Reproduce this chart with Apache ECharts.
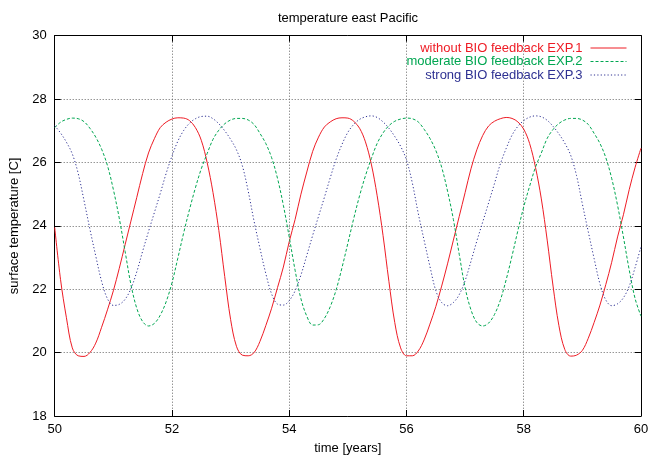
<!DOCTYPE html>
<html>
<head>
<meta charset="utf-8">
<script src="https://cdn.jsdelivr.net/npm/echarts@6/dist/echarts.min.js"></script>
<style>
html,body{margin:0;padding:0;background:#fff;}
#chart{width:658px;height:460px;}
</style>
</head>
<body>
<div id="chart"></div>
<script>
const years = [50.0,50.1,50.2,50.3,50.4,50.5,50.6,50.7,50.8,50.9,
51.0,51.1,51.2,51.3,51.4,51.5,51.6,51.7,51.8,51.9,
52.0,52.1,52.2,52.3,52.4,52.5,52.6,52.7,52.8,52.9,
53.0,53.1,53.2,53.3,53.4,53.5,53.6,53.7,53.8,53.9,
54.0,54.1,54.2,54.3,54.4,54.5,54.6,54.7,54.8,54.9,
55.0,55.1,55.2,55.3,55.4,55.5,55.6,55.7,55.8,55.9,
56.0,56.1,56.2,56.3,56.4,56.5,56.6,56.7,56.8,56.9,
57.0,57.1,57.2,57.3,57.4,57.5,57.6,57.7,57.8,57.9,
58.0,58.1,58.2,58.3,58.4,58.5,58.6,58.7,58.8,58.9,
59.0,59.1,59.2,59.3,59.4,59.5,59.6,59.7,59.8,59.9,60.0];

const exp1 = [23.95,22.3,21.1,20.15,19.9,19.88,20.0,20.3,20.8,21.35,
21.95,22.65,23.4,24.15,24.9,25.65,26.3,26.75,27.1,27.27,
27.37,27.41,27.4,27.32,27.1,26.7,26.0,25.05,23.85,22.4,
21.05,20.2,19.92,19.9,20.0,20.35,20.85,21.4,22.05,22.7,
23.5,24.2,25.0,25.7,26.35,26.8,27.12,27.28,27.38,27.41,
27.4,27.3,27.08,26.65,25.95,24.95,23.7,22.25,20.95,20.15,
19.9,19.9,20.05,20.4,20.9,21.45,22.1,22.8,23.55,24.3,
25.05,25.8,26.4,26.85,27.15,27.3,27.38,27.42,27.39,27.28,
27.05,26.6,25.85,24.85,23.55,22.1,20.85,20.1,19.89,19.92,
20.07,20.45,20.95,21.5,22.15,22.85,23.65,24.35,25.15,25.85,26.45];

const exp2 = [27.1,27.27,27.36,27.4,27.38,27.29,27.08,26.8,26.42,25.9,
25.15,24.25,23.2,22.15,21.4,20.98,20.84,20.92,21.18,21.6,
22.2,22.98,23.78,24.52,25.2,25.8,26.28,26.73,27.02,27.22,
27.34,27.39,27.39,27.34,27.2,26.92,26.6,26.15,25.5,24.65,
23.65,22.6,21.7,21.15,20.87,20.88,21.08,21.45,21.98,22.68,
23.45,24.23,24.95,25.58,26.12,26.6,26.93,27.16,27.3,27.37,
27.4,27.38,27.28,27.05,26.76,26.38,25.85,25.1,24.2,23.1,
22.05,21.35,20.95,20.84,20.93,21.2,21.65,22.3,23.05,23.85,
24.6,25.25,25.85,26.3,26.76,27.04,27.23,27.34,27.39,27.39,
27.34,27.2,26.92,26.6,26.15,25.5,24.65,23.65,22.6,21.7,21.15];

const exp3 = [27.16,26.93,26.64,26.27,25.66,24.8,23.9,23.05,22.25,21.7,
21.49,21.52,21.68,22.02,22.55,23.2,23.82,24.42,25.02,25.65,
26.2,26.67,27.01,27.24,27.38,27.45,27.46,27.38,27.22,27.0,
26.73,26.4,25.9,25.1,24.15,23.3,22.5,21.85,21.53,21.5,
21.64,21.95,22.45,23.07,23.7,24.3,24.9,25.52,26.1,26.57,
26.95,27.2,27.36,27.44,27.47,27.42,27.28,27.08,26.82,26.51,
26.08,25.35,24.4,23.55,22.72,21.96,21.58,21.48,21.58,21.83,
22.27,22.88,23.52,24.12,24.72,25.33,25.95,26.44,26.86,27.14,
27.32,27.43,27.47,27.44,27.33,27.14,26.9,26.61,26.23,25.59,
24.69,23.82,22.97,22.17,21.66,21.48,21.54,21.73,22.1,22.69,23.34];

const seriesNames = ['without BIO feedback EXP.1','moderate BIO feedback EXP.2','strong BIO feedback EXP.3'];

const colors = ['#ee1c25','#00a651','#2e3192'];
const FONT = 'Liberation Sans, Arial, Helvetica, sans-serif';
const FS = 13;

function pairs(v){ return years.map((x,i)=>[x,v[i]]); }

const chart = echarts.init(document.getElementById('chart'), null, {renderer:'canvas'});
const axisCommon = {
  type:'value',
  axisLine:{show:true,onZero:false,lineStyle:{color:'#000',width:1}},
  axisTick:{show:true,inside:true,length:6,lineStyle:{color:'#000',width:1}},
};
chart.setOption({
  animation:false,
  backgroundColor:'#fff',
  textStyle:{fontFamily:FONT},
  title:{
    text:'temperature east Pacific',
    left:343, top:7, textAlign:'center',
    textStyle:{fontSize:FS,fontWeight:'normal',color:'#000',fontFamily:FONT}
  },
  legend:{
    orient:'vertical',
    right:31, top:41.5,
    align:'right',
    itemWidth:36, itemHeight:10, itemGap:0.5,
    padding:0,
    itemStyle:{opacity:0,borderWidth:0},
    lineStyle:{width:1},
    data: seriesNames.map((n,i)=>({name:n,textStyle:{color:colors[i]}})),
    textStyle:{fontSize:FS,lineHeight:12,fontFamily:FONT,padding:[0,3,0,0]}
  },
  grid:{left:54.7,right:17,top:35.7,bottom:40,containLabel:false},
  xAxis:[
    Object.assign({},axisCommon,{
      min:50,max:60,interval:2,position:'bottom',
      name:'time [years]',nameLocation:'middle',nameGap:26,
      nameTextStyle:{fontSize:FS,color:'#000',fontFamily:FONT},
      axisLabel:{color:'#000',fontSize:FS,margin:7,fontFamily:FONT},
      splitLine:{show:true,lineStyle:{color:'#666',type:[1,2],width:1}}
    }),
    Object.assign({},axisCommon,{
      min:50,max:60,interval:2,position:'top',
      axisLabel:{show:false},splitLine:{show:false}
    })
  ],
  yAxis:[
    Object.assign({},axisCommon,{
      min:18,max:30,interval:2,position:'left',
      name:'surface temperature [C]',nameLocation:'middle',nameGap:33,
      nameTextStyle:{fontSize:FS,color:'#000',fontFamily:FONT},
      axisLabel:{color:'#000',fontSize:FS,margin:8,fontFamily:FONT},
      splitLine:{show:true,lineStyle:{color:'#666',type:[1,2],width:1}}
    }),
    Object.assign({},axisCommon,{
      min:18,max:30,interval:2,position:'right',
      axisLabel:{show:false},splitLine:{show:false}
    })
  ],
  series:[
    {name:seriesNames[0],type:'line',data:pairs(exp1),symbol:'none',smooth:0.35,
      itemStyle:{color:colors[0]},lineStyle:{color:colors[0],width:1,type:'solid'}},
    {name:seriesNames[1],type:'line',data:pairs(exp2),symbol:'none',smooth:0.35,
      itemStyle:{color:colors[1]},lineStyle:{color:colors[1],width:1,type:[3,2]}},
    {name:seriesNames[2],type:'line',data:pairs(exp3),symbol:'none',smooth:0.35,
      itemStyle:{color:colors[2]},lineStyle:{color:colors[2],width:1,type:[1.2,2.2]}}
  ]
});
</script>
</body>
</html>
